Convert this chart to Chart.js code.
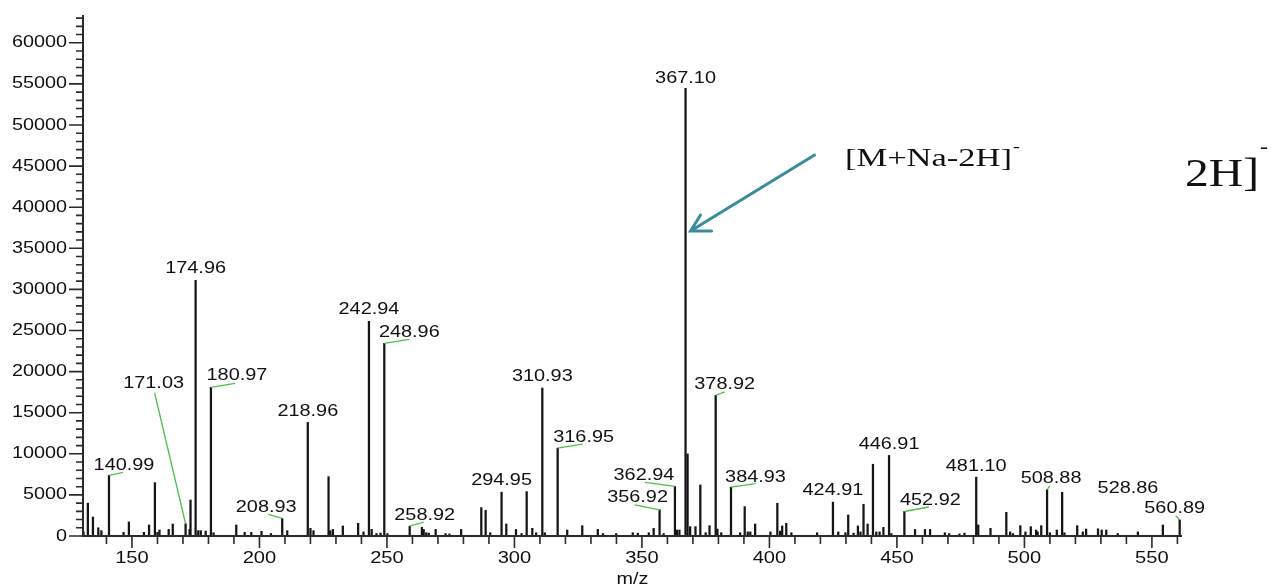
<!DOCTYPE html>
<html>
<head>
<meta charset="utf-8">
<script src="https://cdn.jsdelivr.net/npm/chart.js@4.4.0/dist/chart.umd.min.js"></script>
<style>
  html, body { margin: 0; padding: 0; background: #fff; }
</style>
</head>
<body>
<canvas id="spectrum" width="1279" height="588"></canvas>
<script>
// Labelled peaks (m/z and intensity)
const labelledMz = [140.99, 171.03, 174.96, 180.97, 208.93, 218.96, 242.94, 248.96, 258.92,
  294.95, 310.93, 316.95, 356.92, 362.94, 367.10, 378.92, 384.93, 424.91, 446.91, 452.92,
  481.10, 508.88, 528.86, 560.89];
const labelledIntensity = [7370, 1490, 31110, 18080, 2130, 13820, 26120, 23440, 1190,
  5330, 18000, 10690, 3190, 6030, 54460, 17110, 5940, 4120, 9800, 2980,
  7160, 5630, 880, 1970];

// Unlabelled peaks
const otherMz = [131.0, 132.7, 134.7, 136.8, 138.0, 146.7, 148.8, 154.7, 156.7, 159.0, 160.0, 160.8,
  164.4, 166.0, 172.6, 172.97, 176.0, 177.0, 178.9, 182.0, 190.9, 194.2, 196.8, 200.8, 204.5,
  210.9, 220.0, 221.2, 227.1, 227.8, 228.8, 232.7, 238.7, 240.8, 244.0, 245.9, 247.5, 250.2,
  263.7, 264.4, 265.4, 266.4, 269.1, 273.0, 274.5, 279.1, 287.0, 288.7, 290.5, 296.8, 300.6,
  302.8, 304.8, 307.0, 308.5, 311.9, 320.7, 326.6, 332.7, 334.7, 339.9, 346.4, 348.4, 352.7,
  354.6, 358.5, 363.7, 364.7, 367.9, 368.9, 371.0, 372.9, 375.0, 376.5, 379.6, 381.1, 388.5,
  390.3, 391.5, 392.5, 394.4, 400.4, 403.1, 404.2, 405.0, 406.6, 408.6, 418.7, 427.0, 429.8,
  430.9, 433.0, 434.7, 435.7, 436.9, 438.5, 440.6, 441.9, 443.2, 444.7, 447.8, 457.1, 461.0,
  463.0, 468.8, 470.5, 474.5, 476.5, 481.9, 486.7, 492.9, 494.4, 495.5, 498.4, 500.4, 502.5,
  504.6, 505.2, 506.6, 510.0, 512.7, 514.8, 515.7, 520.7, 522.9, 524.2, 530.3, 532.1, 536.6,
  544.5, 554.3];
const otherIntensity = [500, 4000, 2310, 1000, 650, 450, 1720, 450, 1340, 6490, 450, 730,
  810, 1460, 800, 4380, 650, 650, 600, 400, 1340, 450, 450, 570, 300,
  650, 930, 650, 7220, 650, 800, 1220, 1540, 500, 810, 300, 350, 300,
  1050, 800, 400, 350, 800, 300, 250, 800, 3450, 3130, 400, 1460, 800,
  300, 5400, 930, 400, 400, 730, 1260, 800, 300, 300, 400, 350, 400,
  930, 300, 730, 730, 9990, 1140, 1140, 6210, 400, 1260, 850, 400, 400,
  3570, 500, 500, 1460, 500, 3980, 600, 1220, 1540, 400, 400, 500, 400,
  2560, 350, 1220, 500, 3860, 1460, 8730, 500, 500, 1050, 300, 800, 800,
  800, 400, 300, 250, 350, 1340, 930, 2880, 500, 300, 1260, 500, 1140,
  730, 500, 1260, 400, 730, 5320, 400, 1260, 500, 850, 730, 730, 300,
  500, 1340];

// Tick values
const yTicks = [0, 5000, 10000, 15000, 20000, 25000, 30000, 35000, 40000, 45000, 50000, 55000, 60000];
const xTicks = [150, 200, 250, 300, 350, 400, 450, 500, 550];

// Label placement relative to the peak top, in pixels: [dx, dy, leaderX, leaderY] (leader null = none)
const labelPlacement = [
  [15, -10, 14, -3], [-32, -140, -31, -131], [0, -11.5, null, null], [26, -12, 24, -4],
  [-16, -11, -14, -4], [0, -11.5, null, null], [0, -12, null, null], [25, -11, 25, -4],
  [15, -11, 14, -4], [0, -11.5, null, null], [0, -11.5, null, null], [26, -11, 25, -4],
  [-22, -12, -25, -5], [-31, -11, -30, -4], [0, -10.5, null, null], [9, -11.5, 9, -3.5],
  [24.5, -10, 24.5, -3.5], [0, -11.5, null, null], [0, -11.5, null, null], [26, -11, 24.5, -4.5],
  [0, -11, null, null], [4, -11, 3, -4], [30, -40, null, null], [-5, -11, -4, -4]
];

const peaks = labelledMz.map((m, i) => ({ x: m, y: labelledIntensity[i] }))
  .concat(otherMz.map((m, i) => ({ x: m, y: otherIntensity[i] })))
  .sort((a, b) => a.x - b.x);

const SANS = "'Liberation Sans', Arial, sans-serif";
const SERIF = "'Liberation Serif', 'Times New Roman', serif";

// draws text stretched horizontally like the original export
function wideText(ctx, text, x, y, stretch, align) {
  ctx.save();
  ctx.translate(x, y);
  ctx.scale(stretch, 1);
  ctx.textAlign = align;
  ctx.fillText(text, 0, 0);
  ctx.restore();
}

const overlay = {
  id: 'overlay',
  afterDatasetsDraw(chart) {
    const { ctx, chartArea: a, scales: { x, y } } = chart;
    ctx.save();

    // axis lines
    ctx.strokeStyle = '#2b2b2b';
    ctx.lineWidth = 2;
    ctx.beginPath();
    ctx.moveTo(a.left, a.top);
    ctx.lineTo(a.left, a.bottom);
    ctx.lineTo(a.right, a.bottom);
    ctx.stroke();

    // y ticks: minor every 1000, major every 5000
    ctx.lineWidth = 1.6;
    ctx.beginPath();
    for (let v = 0; v <= y.max; v += 1000) {
      const py = y.getPixelForValue(v);
      const len = v % 5000 === 0 ? 14 : 7;
      ctx.moveTo(a.left - len, py);
      ctx.lineTo(a.left, py);
    }
    // x ticks: minor every 10, major every 50
    for (let v = 140; v <= x.max; v += 10) {
      const px = x.getPixelForValue(v);
      const len = v % 50 === 0 ? 12 : 8;
      ctx.moveTo(px, a.bottom);
      ctx.lineTo(px, a.bottom + len);
    }
    ctx.stroke();

    // tick labels
    ctx.fillStyle = '#111';
    ctx.textBaseline = 'middle';
    ctx.font = '16.5px ' + SANS;
    yTicks.forEach(v => wideText(ctx, String(v), a.left - 16, y.getPixelForValue(v), 1.2, 'right'));
    xTicks.forEach(v => wideText(ctx, String(v), x.getPixelForValue(v), a.bottom + 22, 1.22, 'center'));
    wideText(ctx, 'm/z', (a.left + a.right) / 2, a.bottom + 43, 1.2, 'center');

    // peak labels and green leader lines
    ctx.font = '17px ' + SANS;
    labelledMz.forEach((m, i) => {
      const px = x.getPixelForValue(m);
      const py = y.getPixelForValue(labelledIntensity[i]);
      const [dx, dy, lx, ly] = labelPlacement[i];
      if (lx !== null) {
        ctx.strokeStyle = '#4cbf4c';
        ctx.lineWidth = 1.3;
        ctx.beginPath();
        ctx.moveTo(px, py);
        ctx.lineTo(px + lx, py + ly);
        ctx.stroke();
      }
      ctx.fillStyle = '#111';
      wideText(ctx, m.toFixed(2), px + dx, py + dy, 1.17, 'center');
    });

    // arrow pointing at the base peak
    const tipX = x.getPixelForValue(367.1) + 5;
    const tipY = y.getPixelForValue(37100);
    const tailX = x.getPixelForValue(417.7);
    const tailY = y.getPixelForValue(46340);
    ctx.strokeStyle = '#3a8c9c';
    ctx.lineWidth = 3;
    ctx.lineCap = 'round';
    ctx.beginPath();
    ctx.moveTo(tailX, tailY);
    ctx.lineTo(tipX, tipY);
    ctx.moveTo(tipX + 10, tipY - 16);
    ctx.lineTo(tipX, tipY);
    ctx.lineTo(tipX + 21, tipY);
    ctx.stroke();

    // annotation
    ctx.fillStyle = '#111';
    ctx.textBaseline = 'alphabetic';
    ctx.font = '25px ' + SERIF;
    wideText(ctx, '[M+Na-2H]', 845, 166, 1.38, 'left');
    ctx.font = '16px ' + SERIF;
    wideText(ctx, '-', 1013, 152, 1.3, 'left');
    ctx.font = '41px ' + SERIF;
    wideText(ctx, '2H]', 1185, 186, 1.16, 'left');
    ctx.font = '20px ' + SERIF;
    wideText(ctx, '-', 1260, 153, 1.2, 'left');

    ctx.restore();
  }
};

new Chart(document.getElementById('spectrum'), {
  type: 'bar',
  data: {
    datasets: [{
      data: peaks,
      backgroundColor: '#151515',
      barThickness: 1.6,
      borderWidth: 0
    }]
  },
  options: {
    responsive: false,
    animation: false,
    events: [],
    layout: { padding: { left: 83, right: 97, top: 15, bottom: 52 } },
    plugins: { legend: { display: false }, tooltip: { enabled: false } },
    scales: {
      x: { type: 'linear', min: 130.8, max: 561.8, offset: false, display: false },
      y: { min: 0, max: 63380, display: false }
    }
  },
  plugins: [overlay]
});
</script>
</body>
</html>
